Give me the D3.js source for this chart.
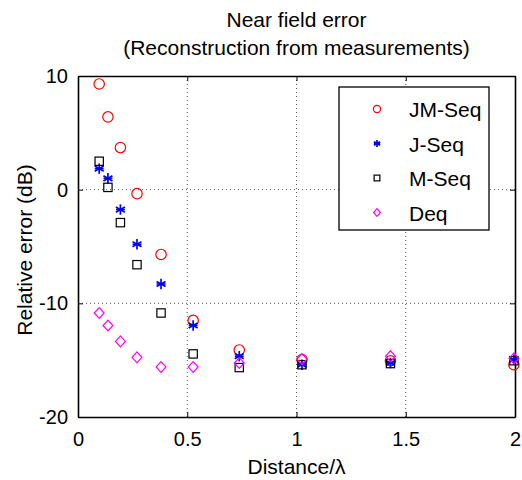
<!DOCTYPE html>
<html>
<head>
<meta charset="utf-8">
<script src="https://cdn.jsdelivr.net/npm/d3@7"></script>
<style>
  body { margin: 0; background: #fff; }
  svg text { font-family: "Liberation Sans", Arial, sans-serif; fill: #000; }
  .tick text { font-size: 20px; }
  .grid line { stroke: #555; stroke-dasharray: 1,3; stroke-width: 1; }
</style>
</head>
<body>
<div id="graph"></div>
<script>
// distance / lambda
const distance = [0.097, 0.137, 0.194, 0.27, 0.38, 0.527, 0.738, 1.025, 1.43, 1.995];
const jmSeq = [9.3, 6.4, 3.7, -0.35, -5.7, -11.5, -14.1, -14.95, -15.05, -15.4];
const jSeq  = [1.85, 1.0, -1.75, -4.8, -8.3, -11.95, -14.65, -15.4, -15.25, -14.95];
const mSeq  = [2.5, 0.2, -2.9, -6.6, -10.85, -14.45, -15.65, -15.4, -15.3, -15.05];
const deq   = [-10.85, -11.95, -13.35, -14.75, -15.6, -15.6, -15.25, -14.9, -14.65, -14.85];
const seriesNames = ["JM-Seq", "J-Seq", "M-Seq", "Deq"];
const xTicks = [0, 0.5, 1, 1.5, 2];
const yTicks = [10, 0, -10, -20];

const margin = {top: 76, right: 7, bottom: 63, left: 78},
  width = 522 - margin.left - margin.right,
  height = 480 - margin.top - margin.bottom;

const svg = d3.select("#graph").append("svg")
  .attr("width", 522)
  .attr("height", 480)
  .append("g")
  .attr("transform", "translate(" + margin.left + "," + margin.top + ")");

const xScale = d3.scaleLinear().domain([0, 2]).range([0, width]);
const yScale = d3.scaleLinear().domain([-20, 10]).range([height, 0]);

// grid
svg.append("g").attr("class", "grid")
  .selectAll("line").data(xTicks.slice(1, -1)).enter().append("line")
  .attr("x1", d => xScale(d)).attr("x2", d => xScale(d))
  .attr("y1", 0).attr("y2", height);
svg.append("g").attr("class", "grid")
  .selectAll("line").data(yTicks.slice(1, -1)).enter().append("line")
  .attr("y1", d => yScale(d)).attr("y2", d => yScale(d))
  .attr("x1", 0).attr("x2", width);

// axes (ticks inside, box all round)
const fmt = d => String(d);
const xAxis = d3.axisBottom(xScale).tickValues(xTicks).tickSizeInner(-5).tickSizeOuter(0).tickPadding(15).tickFormat(fmt);
const yAxis = d3.axisLeft(yScale).tickValues(yTicks).tickSizeInner(-5).tickSizeOuter(0).tickPadding(10).tickFormat(fmt);

svg.append("g").attr("transform", "translate(0," + height + ")").call(xAxis);
svg.append("g").call(yAxis);
svg.append("g").call(d3.axisTop(xScale).tickValues(xTicks).tickSizeInner(-5).tickSizeOuter(0).tickFormat(""));
svg.append("g").attr("transform", "translate(" + width + ",0)")
  .call(d3.axisRight(yScale).tickValues(yTicks).tickSizeInner(-5).tickSizeOuter(0).tickFormat(""));
svg.selectAll(".domain").attr("stroke", "#000").attr("stroke-width", 1.6);
svg.selectAll(".tick line").attr("stroke", "#000");

// titles
svg.append("text")
  .attr("x", width / 2).attr("y", -49)
  .attr("text-anchor", "middle").style("font-size", "21px")
  .text("Near field error");
svg.append("text")
  .attr("x", width / 2).attr("y", -21)
  .attr("text-anchor", "middle").style("font-size", "21px")
  .text("(Reconstruction from measurements)");
svg.append("text")
  .attr("x", width / 2).attr("y", height + 57)
  .attr("text-anchor", "middle").style("font-size", "21px")
  .text("Distance/λ");
svg.append("text")
  .attr("transform", "rotate(-90)")
  .attr("x", -174).attr("y", -46)
  .attr("text-anchor", "middle").style("font-size", "21px")
  .text("Relative error (dB)");

// marker drawing
function drawMarker(g, kind, s) {
  if (kind === 0) {
    g.append("circle").attr("r", s).attr("fill", "none").attr("stroke", "#ff0000").attr("stroke-width", 1.2);
  } else if (kind === 1) {
    [0, 60, 120].forEach(a => {
      const rad = a * Math.PI / 180;
      g.append("line")
        .attr("x1", -s * Math.sin(rad)).attr("y1", -s * Math.cos(rad))
        .attr("x2", s * Math.sin(rad)).attr("y2", s * Math.cos(rad))
        .attr("stroke", "#0000ff").attr("stroke-width", 1.7);
    });
    g.append("line").attr("x1", -s * 0.85).attr("x2", s * 0.85).attr("y1", 0).attr("y2", 0)
      .attr("stroke", "#0000ff").attr("stroke-width", 1.7);
  } else if (kind === 2) {
    const h = s * 0.8;
    g.append("rect").attr("x", -h).attr("y", -h).attr("width", 2 * h).attr("height", 2 * h)
      .attr("fill", "none").attr("stroke", "#000").attr("stroke-width", 1.2);
  } else {
    const h = s * 1.05;
    g.append("path").attr("d", "M0," + (-h) + "L" + (h * 0.9) + ",0L0," + h + "L" + (-h * 0.9) + ",0Z")
      .attr("fill", "none").attr("stroke", "#ff00ff").attr("stroke-width", 1.2);
  }
}

const allSeries = [jmSeq, jSeq, mSeq, deq];
allSeries.forEach((vals, k) => {
  svg.append("g").selectAll("g")
    .data(vals).enter().append("g")
    .attr("transform", (d, i) => "translate(" + xScale(distance[i]) + "," + yScale(d) + ")")
    .each(function() { drawMarker(d3.select(this), k, 5.2); });
});

// legend
const legend = svg.append("g").attr("transform", "translate(" + (339 - margin.left) + "," + (87 - margin.top) + ")");
legend.append("rect").attr("width", 150).attr("height", 143)
  .attr("fill", "#fff").attr("stroke", "#000").attr("stroke-width", 1.3);
seriesNames.forEach((name, k) => {
  const row = legend.append("g").attr("transform", "translate(0," + (22 + k * 34.5) + ")");
  const m = row.append("g").attr("transform", "translate(38,0)");
  drawMarker(m, k, 3.6);
  row.append("text").attr("x", 70).attr("y", 8).style("font-size", "21px").text(name);
});
</script>
</body>
</html>
